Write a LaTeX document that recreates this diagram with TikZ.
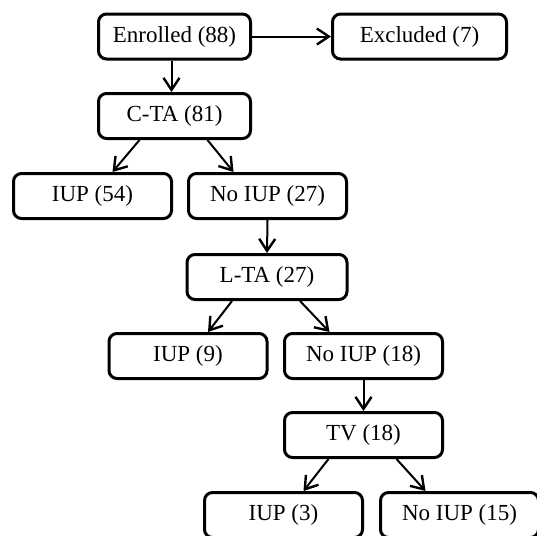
\documentclass[tikz,border=0pt]{standalone}
\usepackage{fontspec}
\setmainfont{Liberation Serif}
\usetikzlibrary{arrows.meta}

\begin{document}
\begin{tikzpicture}[x=0.5pt, y=-0.5pt,
  stagebox/.style={draw, line width=1.5pt, rounded corners=4pt, minimum width=79pt, minimum height=22.5pt, inner sep=0pt, font=\fontsize{11.5}{13}\selectfont},
  flow/.style={line width=1pt, -{Straight Barb[length=6pt,width=8pt,line width=1.2pt]}}]
\useasboundingbox (0,0) rectangle (537,536);
% stages
\node[stagebox, minimum width=76pt] (enrolled) at (174.5,36.5) {Enrolled (88)};
\node[stagebox, minimum width=87pt] (excluded) at (419.5,36.5) {Excluded (7)};
\node[stagebox, minimum width=76pt] (cta) at (174.5,116) {C-TA (81)};
\node[stagebox] (iupA) at (92.5,196) {IUP (54)};
\node[stagebox] (noiupA) at (267.5,196) {No IUP (27)};
\node[stagebox, minimum width=80pt] (lta) at (267,277) {L-TA (27)};
\node[stagebox] (iupB) at (188,356) {IUP (9)};
\node[stagebox] (noiupB) at (363.5,356) {No IUP (18)};
\node[stagebox] (tv) at (363.5,435) {TV (18)};
\node[stagebox] (iupC) at (283.5,515) {IUP (3)};
\node[stagebox] (noiupC) at (459.5,515) {No IUP (15)};
% arrows
\draw[flow] (enrolled.east) -- (excluded.west);
\draw[flow] ([xshift=-1.5pt]enrolled.south) -- ([xshift=-1.5pt]cta.north);
\draw[flow] (noiupA.south) -- (lta.north);
\draw[flow] (noiupB.south) -- (tv.north);
\foreach \parent/\left/\right in {cta/iupA/noiupA, lta/iupB/noiupB, tv/iupC/noiupC}{
  \draw[flow] ([xshift=-17.5pt]\parent.south) -- ([xshift=10pt]\left.north);
  \draw[flow] ([xshift=16.5pt]\parent.south) -- ([xshift=-17pt]\right.north);
}
\end{tikzpicture}
\end{document}
